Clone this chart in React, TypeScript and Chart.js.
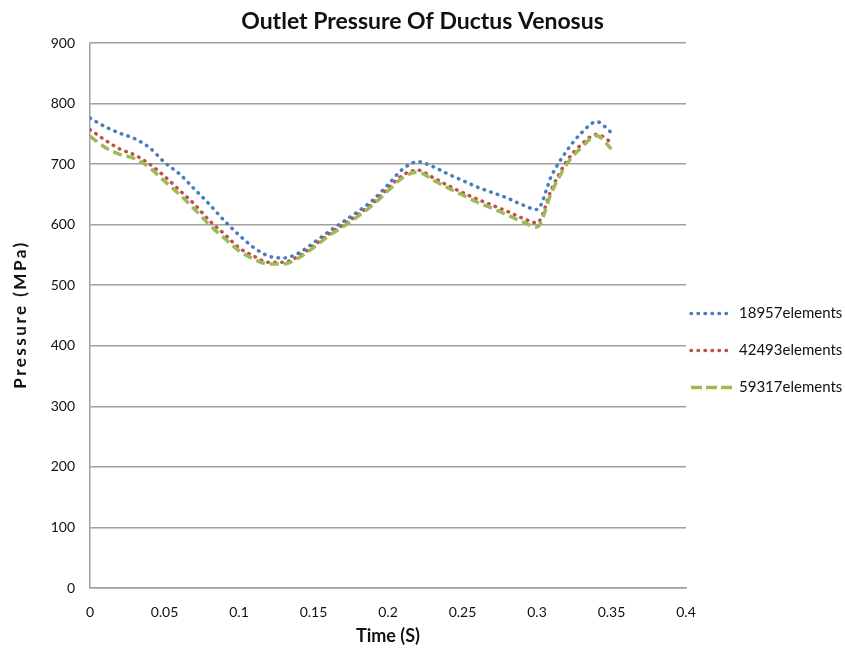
import React, { useEffect, useRef } from 'react';
import { Chart, registerables } from 'chart.js';

Chart.register(...registerables);

const chartTitle = 'Outlet Pressure Of Ductus Venosus';
const xAxisTitle = 'Time (S)';
const yAxisTitle = 'Pressure (MPa)';

const times = [
  0, 0.01, 0.02, 0.03, 0.04, 0.05, 0.06, 0.07, 0.08, 0.09,
  0.1, 0.11, 0.12, 0.13, 0.14, 0.15, 0.16, 0.17, 0.18, 0.19,
  0.2, 0.21, 0.22, 0.23, 0.24, 0.25, 0.26, 0.27, 0.28, 0.29,
  0.3, 0.31, 0.32, 0.33, 0.34, 0.35,
];

const seriesLabels = ['18957elements', '42493elements', '59317elements'];

const values18957 = [
  776, 762, 751, 742, 727, 703, 684, 659, 634, 607,
  583, 562, 548, 545, 553, 570, 588, 605, 622, 641,
  666, 692, 704, 696, 684, 673, 662, 653, 644, 633,
  625, 682, 722, 752, 770, 752,
];

const values42493 = [
  757, 740, 725, 715, 700, 680, 657, 634, 607, 585,
  562, 548, 538, 538, 548, 565, 584, 600, 617, 636,
  660, 682, 690, 678, 665, 653, 642, 632, 622, 611,
  603, 660, 705, 733, 749, 736,
];

const values59317 = [
  746, 728, 716, 709, 694, 672, 650, 626, 600, 578,
  557, 543, 535, 535, 545, 562, 581, 597, 614, 633,
  656, 678, 687, 674, 661, 649, 637, 627, 616, 605,
  596, 655, 700, 728, 747, 725,
];

const xTickLabels = ['0', '0.05', '0.1', '0.15', '0.2', '0.25', '0.3', '0.35', '0.4'];
const yTickLabels = ['0', '100', '200', '300', '400', '500', '600', '700', '800', '900'];

const FONT = 'Lato, "Open Sans", sans-serif';

const textPlugin = {
  id: 'textPlugin',
  afterDraw(chart: any) {
    const ctx = chart.ctx as any;
    const area = chart.chartArea;

    // chart title centred on the whole canvas
    ctx.save();
    ctx.fillStyle = '#111';
    ctx.font = `bold 23px ${FONT}`;
    ctx.textAlign = 'center';
    ctx.textBaseline = 'middle';
    ctx.fillText(chartTitle, chart.width / 2, 22);
    ctx.restore();

    // y axis title, rotated, letter-spaced
    ctx.save();
    ctx.fillStyle = '#111';
    ctx.font = `bold 17px ${FONT}`;
    if ('letterSpacing' in ctx) ctx.letterSpacing = '2.5px';
    ctx.textAlign = 'center';
    ctx.textBaseline = 'middle';
    ctx.translate(21, (area.top + area.bottom) / 2 - 1);
    ctx.rotate(-Math.PI / 2);
    ctx.fillText(yAxisTitle, 0, 0);
    ctx.restore();

    // legend at the right
    const x0 = area.right + 5;
    const cy = (area.top + area.bottom) / 2 + 35;
    const gap = 37;
    chart.data.datasets.forEach((ds: any, i: number) => {
      const y = cy + (i - 1) * gap;
      ctx.save();
      ctx.strokeStyle = ds.borderColor;
      ctx.lineWidth = ds.borderWidth;
      ctx.lineCap = ds.borderCapStyle || 'butt';
      ctx.setLineDash(ds.legendDash || ds.borderDash || []);
      ctx.beginPath();
      ctx.moveTo(x0, y);
      ctx.lineTo(x0 + 41, y);
      ctx.stroke();
      ctx.setLineDash([]);
      ctx.fillStyle = '#111';
      ctx.font = `15px ${FONT}`;
      ctx.textBaseline = 'middle';
      ctx.textAlign = 'left';
      ctx.fillText(ds.label, x0 + 48, y);
      ctx.restore();
    });
  },
};

export default function App() {
  const canvasRef = useRef<HTMLCanvasElement | null>(null);

  useEffect(() => {
    document.body.style.margin = '0';
    const canvas = canvasRef.current;
    if (!canvas) return;
    const mk = (vals: number[]) => times.map((t, i) => ({ x: t, y: vals[i] }));
    const chart = new Chart(canvas, {
      type: 'line',
      data: {
        datasets: [
          {
            label: seriesLabels[0],
            data: mk(values18957),
            borderColor: '#4A7EBB',
            borderWidth: 3.5,
            borderCapStyle: 'round',
            borderDash: [0.5, 6.5],
            pointRadius: 0,
            fill: false,
            cubicInterpolationMode: 'monotone',
            order: 2,
          } as any,
          {
            label: seriesLabels[1],
            data: mk(values42493),
            borderColor: '#C0504D',
            borderWidth: 3.5,
            borderCapStyle: 'round',
            borderDash: [0.5, 6.5],
            pointRadius: 0,
            fill: false,
            cubicInterpolationMode: 'monotone',
            order: 1,
          } as any,
          {
            label: seriesLabels[2],
            data: mk(values59317),
            borderColor: '#9BBB59',
            borderWidth: 3.5,
            borderCapStyle: 'butt',
            borderDash: [9, 5],
            legendDash: [11, 4],
            pointRadius: 0,
            fill: false,
            cubicInterpolationMode: 'monotone',
            order: 0,
          } as any,
        ],
      },
      options: {
        responsive: false,
        animation: false,
        layout: { padding: { left: 0, right: 159, top: 43, bottom: 0 } },
        plugins: {
          legend: { display: false },
          tooltip: { enabled: false },
          title: { display: false },
        },
        scales: {
          x: {
            type: 'linear',
            min: 0,
            max: 0.4,
            afterFit: (scale: any) => {
              scale.height = 60;
            },
            ticks: {
              stepSize: 0.05,
              color: '#111',
              font: { family: FONT, size: 14 },
              padding: 16,
              maxRotation: 0,
              callback: (_v: any, i: number) => xTickLabels[i],
            },
            grid: { display: false, drawTicks: false },
            border: { display: true, color: '#a0a0a0', width: 1.5 },
            title: {
              display: true,
              text: xAxisTitle,
              color: '#111',
              font: { family: FONT, size: 18, weight: 'bold' },
              padding: { top: 0, bottom: 1 },
            },
          },
          y: {
            type: 'linear',
            min: 0,
            max: 900,
            afterFit: (scale: any) => {
              scale.width = 90;
            },
            ticks: {
              stepSize: 100,
              color: '#111',
              font: { family: FONT, size: 14 },
              padding: 15,
              callback: (_v: any, i: number) => yTickLabels[i],
            },
            grid: { color: '#a0a0a0', lineWidth: 1.5, drawTicks: false },
            border: { display: true, color: '#a0a0a0', width: 1.5 },
            title: { display: false },
          },
        },
      },
      plugins: [textPlugin],
    });
    return () => chart.destroy();
  }, []);

  return (
    <div style={{ width: 845, height: 648, background: '#fff' }}>
      <canvas ref={canvasRef} width={845} height={648} />
    </div>
  );
}
